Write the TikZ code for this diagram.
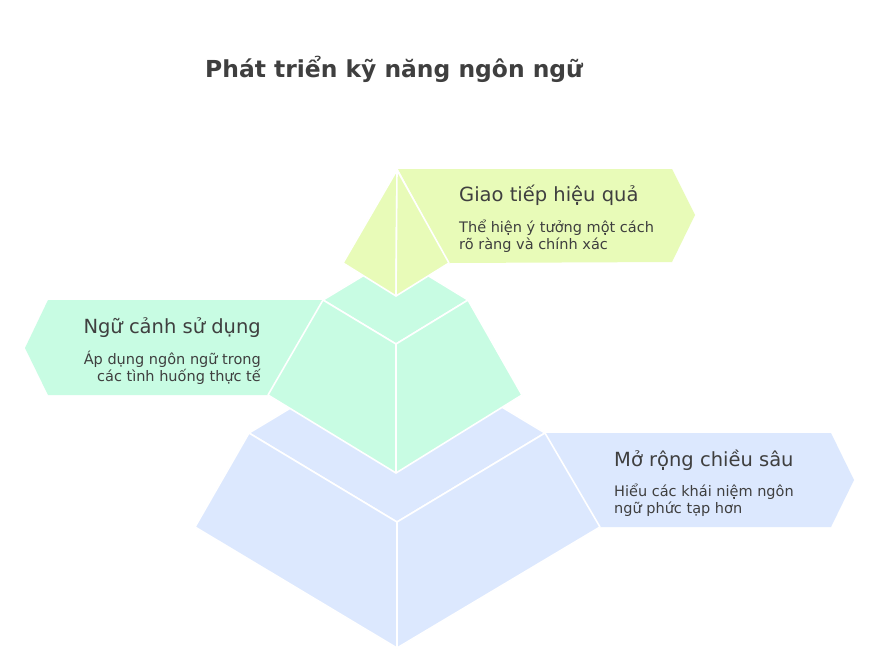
\documentclass[tikz,border=0pt]{standalone}
\usepackage{fontspec}
\setmainfont{DejaVu Sans}
\definecolor{txt}{HTML}{3F3F3F}
\definecolor{topc}{HTML}{E8FBB8}
\definecolor{midc}{HTML}{C8FCE3}
\definecolor{botc}{HTML}{DCE8FE}
\tikzset{
  face/.style={draw=white, line width=1.6pt, line join=round},
  banner/.style={draw=none},
  title/.style={font=\fontsize{23.4}{27}\selectfont\bfseries, text=txt, inner sep=0pt},
  head/.style={font=\fontsize{19.5}{22}\selectfont, text=txt, inner sep=0pt},
  body/.style={font=\fontsize{14.5}{17}\selectfont, text=txt, inner sep=0pt, align=left},
  bodyr/.style={font=\fontsize{14.5}{17}\selectfont, text=txt, inner sep=0pt, align=right},
}
\begin{document}
\begin{tikzpicture}[x=1pt,y=-1pt]
\useasboundingbox (0,0) rectangle (876,659);
\fill[white] (0,0) rectangle (876,659);
% banners
\fill[topc, banner] (398,169) -- (672,169) -- (695,215) -- (672,262) -- (449,263) -- cycle;
\fill[midc, banner] (48,300) -- (323,300) -- (268,395) -- (48,395) -- (25,348) -- cycle;
\fill[botc, banner] (545,433) -- (831,433) -- (854,480) -- (831,527) -- (600,527) -- cycle;
% bottom tier
\filldraw[botc, face] (249,433) -- (397,344) -- (545,433) -- (397,522) -- cycle;
\filldraw[botc, face] (249,433) -- (195,527) -- (397,648) -- (397,522) -- cycle;
\filldraw[botc, face] (545,433) -- (600,527) -- (397,648) -- (397,522) -- cycle;
% middle tier
\filldraw[midc, face] (323,300) -- (396,256) -- (468,300) -- (396,344) -- cycle;
\filldraw[midc, face] (323,300) -- (268,395) -- (396,473) -- (396,344) -- cycle;
\filldraw[midc, face] (468,300) -- (522,395) -- (396,473) -- (396,344) -- cycle;
% top tier
\filldraw[topc, face] (397,170) -- (343,263) -- (396,296) -- cycle;
\filldraw[topc, face] (397,170) -- (396,296) -- (449,263) -- cycle;
% texts
\node[title, anchor=base west] (t) at (205,77) {Phát triển kỹ năng ngôn ngữ};
\node[head, anchor=base west] (h1) at (459,201) {Giao tiếp hiệu quả};
\node[body, anchor=base west] (b1a) at (459,232) {Thể hiện ý tưởng một cách};
\node[body, anchor=base west] (b1b) at (459,249) {rõ ràng và chính xác};
\node[head, anchor=base east] (h2) at (261,333) {Ngữ cảnh sử dụng};
\node[bodyr, anchor=base east] (b2a) at (261,364) {Áp dụng ngôn ngữ trong};
\node[bodyr, anchor=base east] (b2b) at (261,381) {các tình huống thực tế};
\node[head, anchor=base west] (h3) at (614,466) {Mở rộng chiều sâu};
\node[body, anchor=base west] (b3a) at (614,496) {Hiểu các khái niệm ngôn};
\node[body, anchor=base west] (b3b) at (614,513) {ngữ phức tạp hơn};
\end{tikzpicture}
\end{document}
